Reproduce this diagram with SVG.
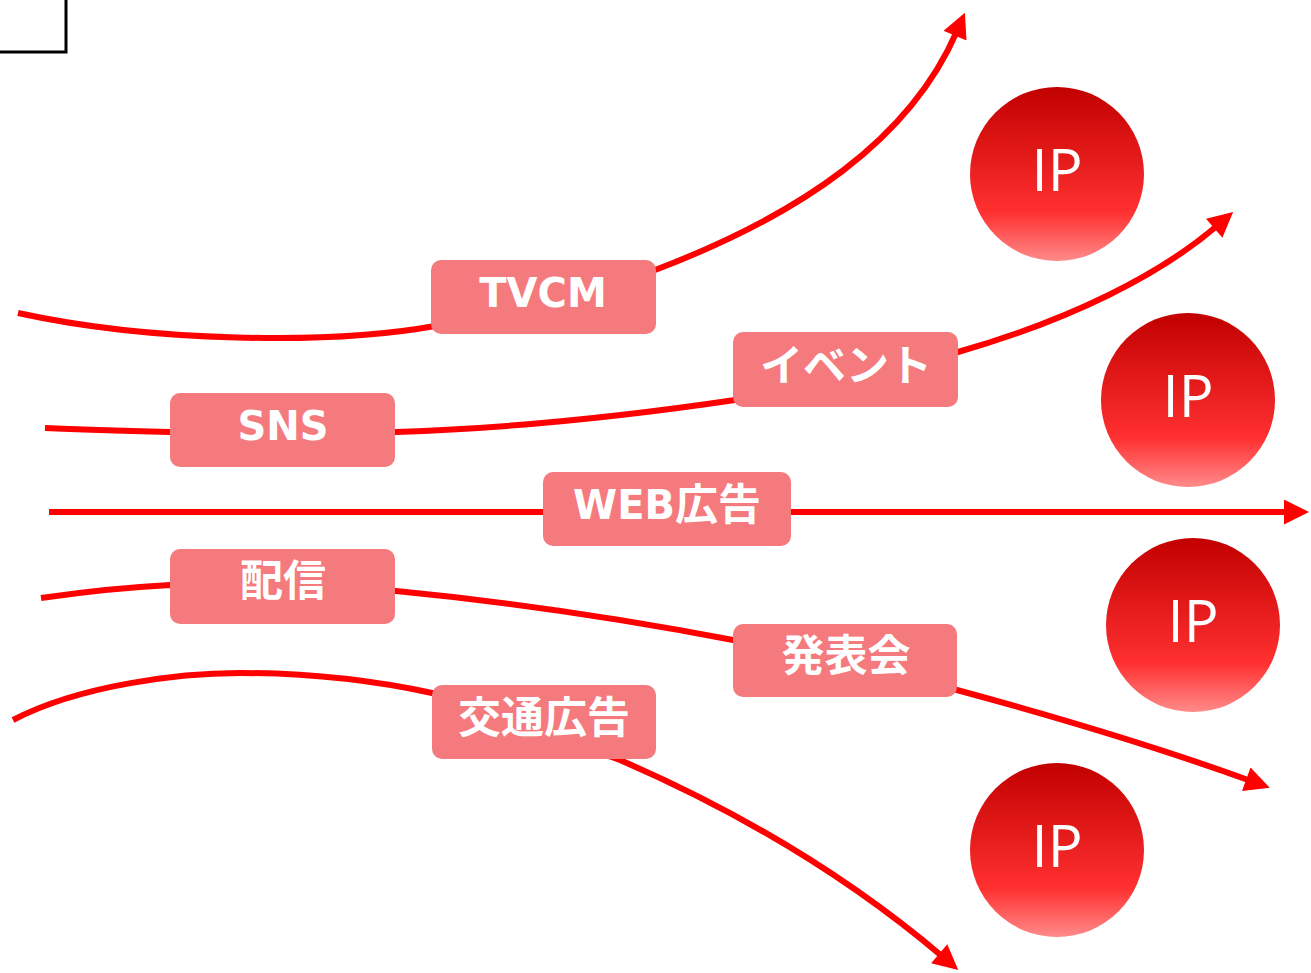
<svg xmlns="http://www.w3.org/2000/svg" width="1311" height="973" viewBox="0 0 1311 973">
<style>
.con{fill:none;stroke:#ff0000;stroke-width:6}
.box{fill:#f47a7e}
.lbl{fill:#ffffff;font-family:"DejaVu Sans","Noto Sans CJK JP",sans-serif;font-weight:bold;font-size:40px;text-anchor:middle;dominant-baseline:central}
.jp{font-size:43px}
.ip{fill:#ffffff;font-family:"Open Sans","DejaVu Sans",sans-serif;font-weight:normal;font-size:58px;text-anchor:middle;dominant-baseline:central}
</style>
<defs>
<marker id="arr" viewBox="0 0 10 10" refX="2" refY="5" markerWidth="28" markerHeight="25" markerUnits="userSpaceOnUse" orient="auto">
<path d="M0,0 L10,5 L0,10 z" fill="#ff0000"/>
</marker>
<linearGradient id="ipg" x1="0" y1="0" x2="0" y2="1">
<stop offset="0" stop-color="#c20000"/>
<stop offset="0.72" stop-color="#ff3030"/>
<stop offset="1" stop-color="#ff8a8a"/>
</linearGradient>
</defs>
<rect width="1311" height="973" fill="#ffffff"/>
<rect id="corner" x="-10" y="-10" width="76" height="62" fill="none" stroke="#000000" stroke-width="3"/>
<g id="connectors">
<path class="con" marker-end="url(#arr)" d="M18,313 C150,342 330,345 435,326 L655,270 C800,215 910,140 957,31"/>
<path class="con" marker-end="url(#arr)" d="M45,428 C90,430 130,431 170,432 L396,432 C520,428 640,414 735,400 L958,352 C1070,320 1160,275 1218,225"/>
<path class="con" marker-end="url(#arr)" d="M49,512 L1289,512"/>
<path class="con" marker-end="url(#arr)" d="M41,598 C90,591 130,587 170,585 L396,591 C520,603 640,622 733,640 L957,690 C1060,718 1160,748 1251,781"/>
<path class="con" marker-end="url(#arr)" d="M13,720 C80,685 180,673 240,673 C320,673 390,684 432,693 L620,760 C740,812 850,878 943,957"/>
</g>
<g id="ip1"><circle cx="1057" cy="174" r="87" fill="url(#ipg)"/><text class="ip" x="1057" y="168">IP</text></g>
<g id="ip2"><circle cx="1188" cy="400" r="87" fill="url(#ipg)"/><text class="ip" x="1188" y="394">IP</text></g>
<g id="ip3"><circle cx="1193" cy="625" r="87" fill="url(#ipg)"/><text class="ip" x="1193" y="619">IP</text></g>
<g id="ip4"><circle cx="1057" cy="850" r="87" fill="url(#ipg)"/><text class="ip" x="1057" y="844">IP</text></g>
<g id="tvcm"><rect class="box" x="431" y="260" width="225" height="74" rx="10"/><text class="lbl" x="543" y="293">TVCM</text></g>
<g id="event"><rect class="box" x="733" y="332" width="225" height="75" rx="10"/><text class="lbl jp" x="846" y="366">イベント</text></g>
<g id="sns"><rect class="box" x="170" y="393" width="225" height="74" rx="10"/><text class="lbl" x="283" y="426">SNS</text></g>
<g id="web"><rect class="box" x="543" y="472" width="248" height="74" rx="10"/><text class="lbl" x="667" y="505">WEB<tspan class="jp">広告</tspan></text></g>
<g id="haishin"><rect class="box" x="170" y="549" width="225" height="75" rx="10"/><text class="lbl jp" x="283" y="581">配信</text></g>
<g id="happyokai"><rect class="box" x="733" y="624" width="224" height="73" rx="10"/><text class="lbl jp" x="846" y="656">発表会</text></g>
<g id="kotsu"><rect class="box" x="432" y="685" width="224" height="74" rx="10"/><text class="lbl jp" x="544" y="718">交通広告</text></g>
</svg>
